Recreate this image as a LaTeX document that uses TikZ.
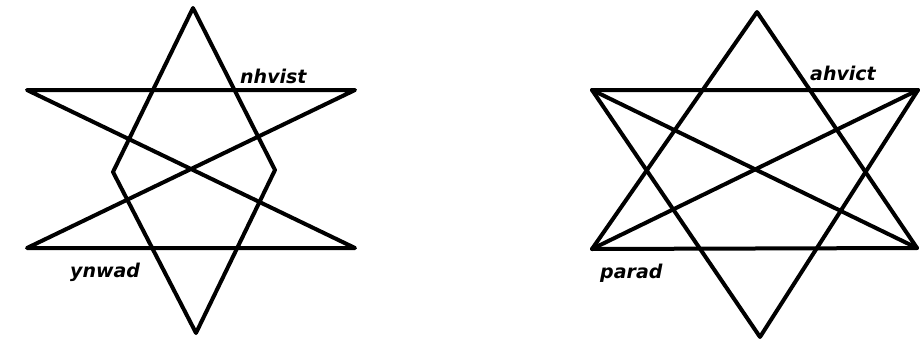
\documentclass[tikz,border=0pt]{standalone}
\usepackage{fontspec}
\setmainfont{DejaVu Sans}
\begin{document}
\begin{tikzpicture}[x=1pt,y=-1pt,
  starline/.style={line width=4pt,line cap=round,line join=round,black},
  handlabel/.style={font=\fontsize{19}{19}\selectfont\itshape\bfseries,inner sep=0pt,anchor=base west}]
\useasboundingbox[fill=white] (0,0) rectangle (922,343);
% ---- left figure
\coordinate (LT) at (193,8);
\coordinate (LL) at (113,172);
\coordinate (LB) at (196,333);
\coordinate (LR) at (275,170);
\coordinate (LTL) at (27,90);
\coordinate (LTR) at (355,90);
\coordinate (LBL) at (27,248);
\coordinate (LBR) at (355,248);
\draw[starline] (LT) -- (LL) -- (LB) -- (LR) -- cycle;
\draw[starline] (LTL) -- (LTR) -- (LBL) -- (LBR) -- cycle;
\node[handlabel] (ltxt) at (240,83) {nhvist};
\node[handlabel] (lbtxt) at (70,277) {ynwad};
% ---- right figure
\coordinate (RT) at (757,12);
\coordinate (RB) at (760,337);
\coordinate (RTL) at (592,90);
\coordinate (RTR) at (918,90);
\coordinate (RBL) at (592,249);
\coordinate (RBR) at (917,248);
\draw[starline] (RT) -- (RBL) -- (RBR) -- cycle;
\draw[starline] (RB) -- (RTL) -- (RTR) -- cycle;
\draw[starline] (RTL) -- (RBR);
\draw[starline] (RTR) -- (RBL);
\node[handlabel] (rtxt) at (810,80) {ahvict};
\node[handlabel] (rbtxt) at (600,278) {parad};
\end{tikzpicture}
\end{document}
